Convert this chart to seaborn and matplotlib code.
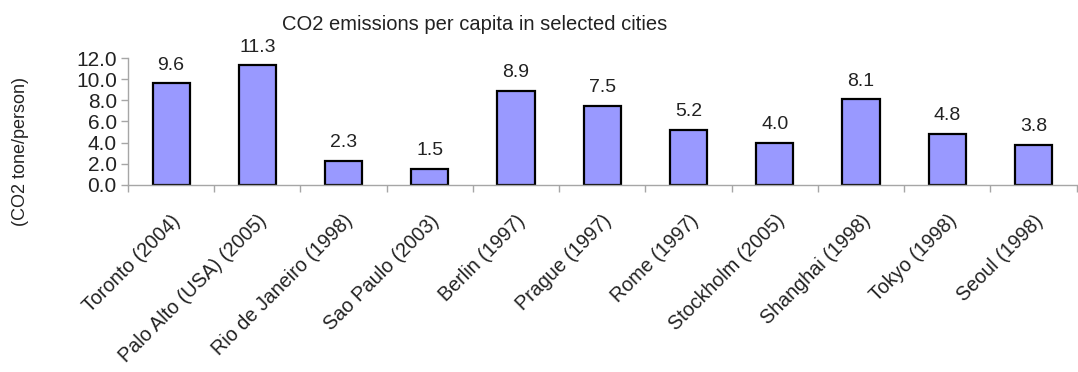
import matplotlib
matplotlib.use("Agg")
import matplotlib.pyplot as plt
import seaborn as sns
import pandas as pd
from matplotlib.ticker import FixedLocator, NullFormatter, FormatStrFormatter

# data
cities = ['Toronto (2004)', 'Palo Alto (USA) (2005)', 'Rio de Janeiro (1998)',
          'Sao Paulo (2003)', 'Berlin (1997)', 'Prague (1997)', 'Rome (1997)',
          'Stockholm (2005)', 'Shanghai (1998)', 'Tokyo (1998)', 'Seoul (1998)']
emissions = [9.6, 11.3, 2.3, 1.5, 8.9, 7.5, 5.2, 4.0, 8.1, 4.8, 3.8]
y_ticks = [0, 2, 4, 6, 8, 10, 12]

df = pd.DataFrame({'city': cities, 'co2': emissions})

sns.set_style('white')
plt.rcParams['font.family'] = ['Liberation Sans', 'DejaVu Sans']
text_col = '#222222'
axis_col = '#a6a6a6'

fig = plt.figure(figsize=(10.78, 3.72), dpi=100)
ax = fig.add_axes([0.1187, 0.503, 0.880, 0.341])

sns.barplot(data=df, x='city', y='co2', color='#9999FF', saturation=1,
            edgecolor='black', linewidth=1.6, width=0.43, ax=ax)

ax.bar_label(ax.containers[0], fmt='%.1f', padding=7, fontsize=14, color=text_col)

ax.set_ylim(0, 12)
ax.set_xlim(-0.5, len(cities) - 0.5)
ax.set_yticks(y_ticks)
ax.yaxis.set_major_formatter(FormatStrFormatter('%.1f'))
ax.tick_params(axis='y', direction='out', length=5, width=1, color=axis_col,
               labelsize=15, labelcolor=text_col, pad=3, left=True)

# category boundaries carry the tick marks, centres carry the labels
ax.xaxis.set_major_locator(FixedLocator([i - 0.5 for i in range(len(cities) + 1)]))
ax.xaxis.set_major_formatter(NullFormatter())
ax.xaxis.set_minor_locator(FixedLocator(list(range(len(cities)))))
ax.set_xticklabels(cities, minor=True)
ax.tick_params(axis='x', which='major', direction='out', length=5, width=1,
               color=axis_col, bottom=True)
ax.tick_params(axis='x', which='minor', length=0, pad=19, labelsize=14.2,
               labelcolor=text_col)
for lab in ax.get_xticklabels(minor=True):
    lab.set_rotation(45)
    lab.set_ha('right')
    lab.set_va('top')
    lab.set_rotation_mode('anchor')

for s in ['top', 'right']:
    ax.spines[s].set_visible(False)
for s in ['left', 'bottom']:
    ax.spines[s].set_color(axis_col)
    ax.spines[s].set_linewidth(1)

ax.set_xlabel('')
ax.set_ylabel('')
fig.text(0.0186, 0.594, '(CO2 tone/person)', rotation=90, ha='center', va='center',
         fontsize=13, color=text_col)
fig.text(0.440, 0.933, 'CO2 emissions per capita in selected cities', ha='center',
         va='center', fontsize=14.5, color=text_col)

fig.savefig('out.png', dpi=100)
